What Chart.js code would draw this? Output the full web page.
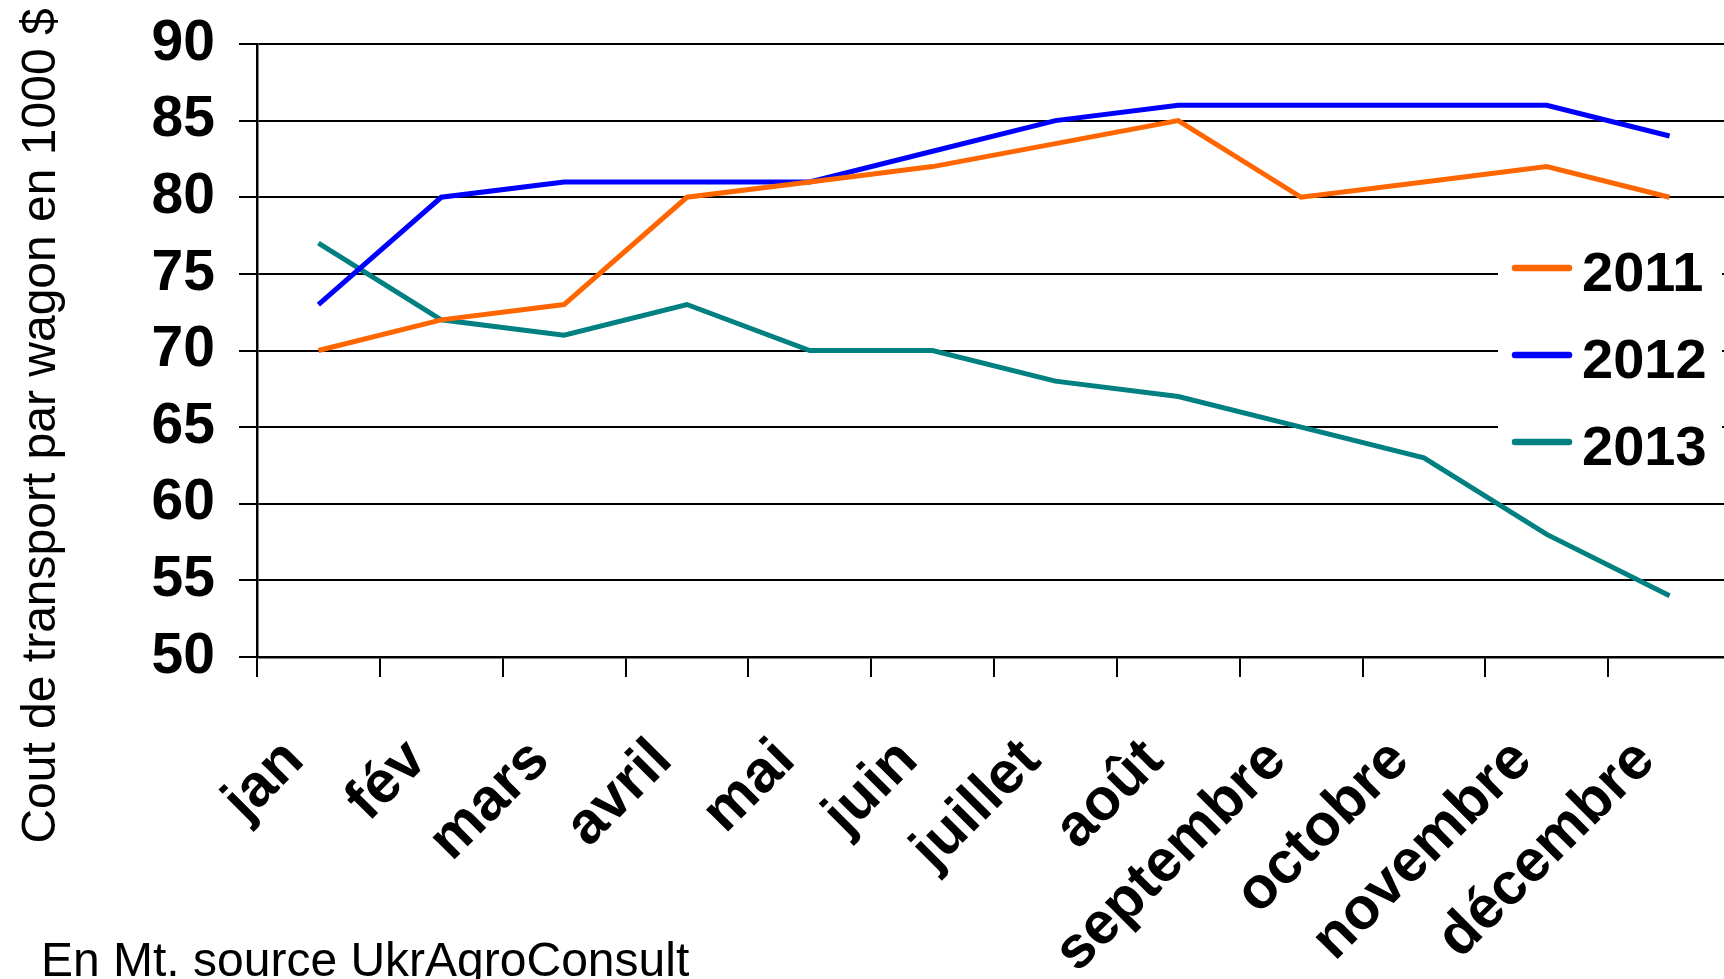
<!DOCTYPE html>
<html>
<head>
<meta charset="utf-8">
<script src="https://cdn.jsdelivr.net/npm/chart.js@4.4.1/dist/chart.umd.min.js"></script>
<style>
  html, body { margin: 0; padding: 0; background: #fff; overflow: hidden; }
  #wrap { width: 1724px; height: 979px; overflow: hidden; }
</style>
</head>
<body>
<div id="wrap"><canvas id="grafico" width="1760" height="979"></canvas></div>
<script>
// donnees
const mois = ["jan", "fév", "mars", "avril", "mai", "juin", "juillet", "août", "septembre", "octobre", "novembre", "décembre"];
const cout2011 = [70, 72, 73, 80, 81, 82, 83.5, 85, 80, 81, 82, 80];
const cout2012 = [73, 80, 81, 81, 81, 83, 85, 86, 86, 86, 86, 84];
const cout2013 = [77, 72, 71, 73, 70, 70, 68, 67, 65, 63, 58, 54];
const ticksY = [50, 55, 60, 65, 70, 75, 80, 85, 90];

const titreY = "Cout de transport par wagon en 1000 $";
const source = "En Mt. source UkrAgroConsult";

const police = '"Liberation Sans", Arial, sans-serif';
Chart.defaults.font.family = police;
Chart.defaults.color = "#000";

// titre vertical, note de source et legende dans le graphique
const decor = {
  id: "decor",
  afterDraw(chart) {
    const ctx = chart.ctx;
    ctx.save();
    ctx.fillStyle = "#000";

    ctx.font = "48px " + police;
    ctx.textAlign = "center";
    ctx.textBaseline = "alphabetic";
    ctx.translate(55, 426);
    ctx.rotate(-Math.PI / 2);
    ctx.fillText(titreY, 0, 0);
    ctx.setTransform(1, 0, 0, 1, 0, 0);

    ctx.font = "48px " + police;
    ctx.textAlign = "left";
    ctx.fillText(source, 41, 976);

    // legende
    ctx.fillStyle = "#fff";
    ctx.fillRect(1498, 232, 224, 236);
    ctx.font = "bold 56px " + police;
    chart.data.datasets.forEach((ds, i) => {
      const y = 268 + i * 87;
      ctx.strokeStyle = ds.borderColor;
      ctx.lineWidth = 6.5;
      ctx.lineCap = "round";
      ctx.beginPath();
      ctx.moveTo(1515, y);
      ctx.lineTo(1569, y);
      ctx.stroke();
      ctx.fillStyle = "#000";
      ctx.fillText(ds.label, 1582, y + 23);
    });
    ctx.restore();
  }
};

const config = {
  type: "line",
  data: {
    labels: mois,
    datasets: [
      { label: "2011", data: cout2011, borderColor: "#FF6600", backgroundColor: "#FF6600" },
      { label: "2012", data: cout2012, borderColor: "#0000FF", backgroundColor: "#0000FF" },
      { label: "2013", data: cout2013, borderColor: "#008080", backgroundColor: "#008080" },
    ],
  },
  options: {
    responsive: false,
    animation: false,
    layout: { padding: { top: 44, right: 29, left: 0, bottom: 0 } },
    elements: {
      line: { borderWidth: 5, tension: 0 },
      point: { radius: 0, hoverRadius: 0 },
    },
    plugins: {
      legend: { display: false },
      tooltip: { enabled: false },
    },
    scales: {
      x: {
        offset: true,
        grid: {
          offset: true,
          drawOnChartArea: false,
          drawTicks: true,
          tickLength: 20,
          color: "#000",
          lineWidth: 2,
        },
        border: { display: true, color: "#000", width: 2.5 },
        ticks: {
          font: { size: 59, weight: "bold" },
          minRotation: 45,
          maxRotation: 45,
          autoSkip: false,
          padding: 49,
          labelOffset: -24,
        },
        afterFit(scale) {
          scale.height = 322;
          scale.paddingLeft = 0;
          scale.paddingRight = 0;
        },
      },
      y: {
        min: 50,
        max: 90,
        afterBuildTicks(scale) { scale.ticks = ticksY.map(v => ({ value: v })); },
        grid: { color: "#000", lineWidth: 2, tickLength: 18 },
        border: { display: true, color: "#000", width: 2.5 },
        ticks: {
          font: { size: 57, weight: "bold" },
          padding: 24,
        },
        afterFit(scale) {
          scale.width = 257;
          scale.paddingTop = 0;
          scale.paddingBottom = 0;
        },
      },
    },
  },
  plugins: [decor],
};

const myChart = new Chart(document.getElementById("grafico"), config);
</script>
</body>
</html>
